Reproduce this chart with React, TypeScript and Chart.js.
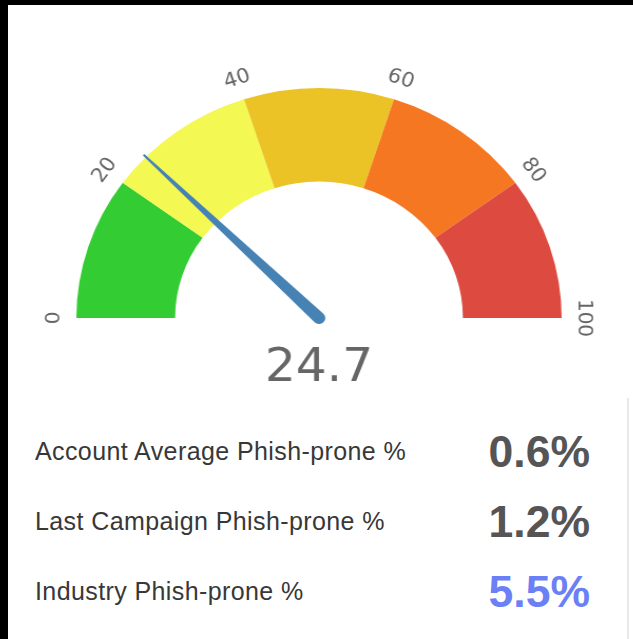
import React, { useEffect, useRef } from "react";
import { Chart, registerables } from "chart.js";

Chart.register(...registerables);

const segmentValues = [20, 20, 20, 20, 20];
const segmentColors = ["#33CC33", "#F4F853", "#EBC326", "#F57722", "#DD4A3F"];
const tickLabels = [0, 20, 40, 60, 80, 100];
const gaugeValue = [24.7];
const statLabels = [
  "Account Average Phish-prone %",
  "Last Campaign Phish-prone %",
  "Industry Phish-prone %",
];
const statValues = ["0.6%", "1.2%", "5.5%"];
const statColors = ["#555555", "#555555", "#6C80F5"];

const gaugePlugin = {
  id: "gaugeExtras",
  afterDatasetsDraw(chart: any) {
    const meta = chart.getDatasetMeta(0);
    const arcs = meta.data;
    if (!arcs.length) return;
    const first = arcs[0];
    const last = arcs[arcs.length - 1];
    const cx = first.x;
    const cy = first.y;
    const outer = first.outerRadius;
    const a0 = first.startAngle;
    const a1 = last.endAngle;
    const vMin = tickLabels[0];
    const vMax = tickLabels[tickLabels.length - 1];
    const toAngle = (v: number) => a0 + ((v - vMin) / (vMax - vMin)) * (a1 - a0);
    const ctx = chart.ctx;
    ctx.save();
    // tick labels
    ctx.fillStyle = "#666666";
    ctx.font = "20px 'DejaVu Sans'";
    ctx.textAlign = "center";
    ctx.textBaseline = "middle";
    const lr = outer + 21;
    tickLabels.forEach((t) => {
      const a = toAngle(t);
      ctx.save();
      ctx.translate(cx + lr * Math.cos(a), cy + lr * Math.sin(a));
      ctx.rotate(a + Math.PI / 2);
      ctx.fillText(String(t), 0, 0);
      ctx.restore();
    });
    // needle
    const v = gaugeValue[0];
    const a = toAngle(v);
    const len = outer * 1.013;
    const bw = 6;
    const tw = 1;
    const ux = Math.cos(a);
    const uy = Math.sin(a);
    const px = -uy;
    const py = ux;
    ctx.fillStyle = "#4682B4";
    ctx.beginPath();
    ctx.moveTo(cx + px * bw, cy + py * bw);
    ctx.lineTo(cx + ux * len + px * tw, cy + uy * len + py * tw);
    ctx.lineTo(cx + ux * len - px * tw, cy + uy * len - py * tw);
    ctx.lineTo(cx - px * bw, cy - py * bw);
    ctx.arc(cx, cy, bw, a - Math.PI / 2 + Math.PI, a + Math.PI / 2 + Math.PI, false);
    ctx.closePath();
    ctx.fill();
    // value text
    ctx.fillStyle = "#666666";
    ctx.font = "46px 'DejaVu Sans'";
    ctx.textAlign = "center";
    ctx.textBaseline = "alphabetic";
    ctx.fillText(String(v), cx, cy + 63);
    ctx.restore();
  },
};

export default function App() {
  const ref = useRef<HTMLCanvasElement | null>(null);
  useEffect(() => {
    if (!ref.current) return;
    const chart = new Chart(ref.current, {
      type: "doughnut",
      data: {
        labels: segmentValues.map((_, i) => `${tickLabels[i]}-${tickLabels[i + 1]}`),
        datasets: [
          {
            data: segmentValues,
            backgroundColor: segmentColors,
            borderWidth: 0,
            hoverOffset: 0,
          },
        ],
      },
      options: {
        responsive: false,
        animation: false,
        rotation: -90,
        circumference: 180,
        cutout: "59.3%",
        layout: { padding: { left: 40, right: 40, top: 40, bottom: 80 } },
        plugins: { legend: { display: false }, tooltip: { enabled: false } },
        events: [],
      },
      plugins: [gaugePlugin],
    });
    return () => chart.destroy();
  }, []);

  return (
    <div
      style={{
        position: "fixed",
        left: 0,
        top: 0,
        width: 633,
        height: 639,
        background: "#000",
        overflow: "hidden",
      }}
    >
      <div
        style={{
          position: "absolute",
          left: 8,
          top: 5,
          right: 0,
          bottom: 0,
          background: "#fff",
        }}
      />
      <div
        style={{
          position: "absolute",
          left: 49,
          top: 48,
          width: 540,
          height: 350,
          transform: "scaleX(1.055)",
          transformOrigin: "270px 0",
        }}
      >
        <canvas ref={ref} width={540} height={350} />
      </div>
      <div
        style={{
          position: "absolute",
          left: 627,
          top: 398,
          width: 2,
          bottom: 0,
          background: "#e8e8e8",
        }}
      />
      {statLabels.map((lab, i) => (
        <React.Fragment key={lab}>
          <div
            style={{
              position: "absolute",
              left: 35,
              top: 451 + i * 70 - 15,
              height: 30,
              lineHeight: "30px",
              fontFamily: "'Liberation Sans', Arial, sans-serif",
              fontSize: 25,
              letterSpacing: "0.4px",
              color: "#383838",
              whiteSpace: "nowrap",
            }}
          >
            {lab}
          </div>
          <div
            style={{
              position: "absolute",
              right: 633 - 590,
              top: 452 + i * 70 - 25,
              height: 50,
              lineHeight: "50px",
              fontFamily: "'Liberation Sans', Arial, sans-serif",
              fontWeight: "bold",
              fontSize: 44.5,
              color: statColors[i],
              whiteSpace: "nowrap",
            }}
          >
            {statValues[i]}
          </div>
        </React.Fragment>
      ))}
    </div>
  );
}
